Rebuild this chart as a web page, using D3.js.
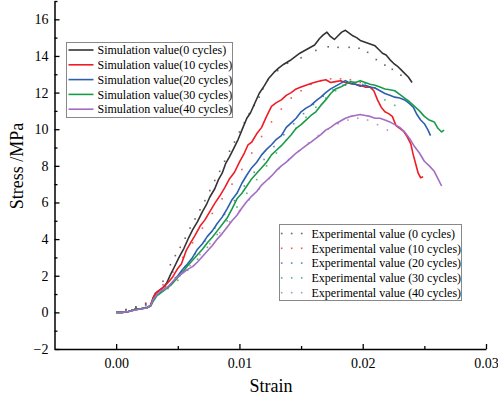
<!DOCTYPE html>
<html>
<head>
<meta charset="utf-8">
<script src="https://cdn.jsdelivr.net/npm/d3@7"></script>
<style>
  body { margin: 0; background: #fff; }
  svg { display: block; font-family: "Liberation Serif", "Times New Roman", serif; }
</style>
</head>
<body>
<svg id="chart"></svg>
<script>
// ---- data ----
const simStrain0 = [0, 0.0005, 0.001, 0.0015, 0.002, 0.0025, 0.0028, 0.003, 0.0032, 0.0035, 0.0038, 0.0041, 0.0044, 0.0047, 0.0051, 0.0055, 0.0059, 0.0062, 0.0066, 0.007, 0.0073, 0.0076, 0.008, 0.0083, 0.0086, 0.0089, 0.0092, 0.0095, 0.0099, 0.0102, 0.0106, 0.0109, 0.0113, 0.0116, 0.012, 0.0124, 0.0128, 0.0132, 0.0136, 0.0141, 0.0145, 0.0149, 0.0153, 0.0157, 0.0161, 0.0165, 0.0168, 0.0171, 0.0174, 0.0177, 0.018, 0.0183, 0.0186, 0.0189, 0.0192, 0.0195, 0.0198, 0.0202, 0.0206, 0.021, 0.0213, 0.0216, 0.0219, 0.0222, 0.0225, 0.0228, 0.0231, 0.0234, 0.0237, 0.024];
const simStress0 = [0, 0, 0.05, 0.15, 0.2, 0.25, 0.4, 0.8, 1.05, 1.2, 1.35, 1.6, 2.05, 2.45, 3.0, 3.5, 4.1, 4.5, 4.95, 5.5, 5.85, 6.3, 6.75, 7.25, 7.6, 8.15, 8.5, 8.9, 9.45, 9.95, 10.6, 10.9, 11.5, 11.95, 12.35, 12.8, 13.1, 13.35, 13.55, 13.75, 13.95, 14.15, 14.3, 14.45, 14.6, 14.95, 15.15, 15.3, 15.05, 14.9, 15.1, 15.3, 15.4, 15.25, 15.1, 15.0, 14.85, 14.75, 14.65, 14.55, 14.35, 14.15, 14.05, 13.8, 13.6, 13.45, 13.25, 13.05, 12.85, 12.55];

const simStrain10 = [0, 0.0005, 0.001, 0.0015, 0.002, 0.0025, 0.0028, 0.003, 0.0032, 0.0036, 0.0039, 0.0043, 0.0046, 0.005, 0.0053, 0.0057, 0.006, 0.0064, 0.0068, 0.0072, 0.0076, 0.008, 0.0084, 0.0088, 0.0092, 0.0096, 0.01, 0.0104, 0.0107, 0.011, 0.0114, 0.0118, 0.0122, 0.0126, 0.013, 0.0134, 0.0138, 0.0142, 0.0146, 0.015, 0.0154, 0.0158, 0.0162, 0.0166, 0.017, 0.0174, 0.0178, 0.0182, 0.0186, 0.019, 0.0194, 0.0198, 0.0202, 0.0206, 0.0209, 0.0212, 0.0215, 0.0218, 0.0221, 0.0224, 0.0227, 0.023, 0.0233, 0.0236, 0.0239, 0.0241, 0.0243, 0.0245, 0.0247, 0.0249];
const simStress10 = [0, 0, 0.05, 0.15, 0.2, 0.25, 0.4, 0.75, 1.05, 1.25, 1.4, 1.7, 1.95, 2.4, 2.65, 3.4, 3.75, 4.2, 4.7, 5.05, 5.5, 5.95, 6.35, 6.8, 7.3, 7.65, 8.2, 8.7, 9.15, 9.3, 9.75, 10.1, 10.7, 11.25, 11.45, 11.6, 11.85, 12.0, 12.2, 12.3, 12.4, 12.5, 12.58, 12.65, 12.7, 12.55, 12.6, 12.65, 12.55, 12.5, 12.45, 12.4, 12.3, 12.3, 12.1, 11.6, 11.2, 10.95, 10.85, 10.7, 10.2, 10.05, 9.9, 9.6, 9.2, 8.6, 8.1, 7.6, 7.35, 7.4];

const simStrain20 = [0, 0.0005, 0.001, 0.0015, 0.002, 0.0025, 0.0028, 0.003, 0.0033, 0.0036, 0.004, 0.0043, 0.0046, 0.005, 0.0054, 0.0058, 0.0062, 0.0066, 0.007, 0.0074, 0.0078, 0.0082, 0.0086, 0.009, 0.0094, 0.0098, 0.0102, 0.0106, 0.011, 0.0114, 0.0118, 0.0122, 0.0126, 0.013, 0.0134, 0.0138, 0.0142, 0.0146, 0.015, 0.0154, 0.0158, 0.0162, 0.0166, 0.017, 0.0174, 0.0178, 0.0182, 0.0186, 0.019, 0.0194, 0.0198, 0.0202, 0.0206, 0.021, 0.0214, 0.0218, 0.0222, 0.0226, 0.023, 0.0234, 0.0238, 0.0241, 0.0244, 0.0247, 0.025, 0.0253, 0.0255];
const simStress20 = [0, 0, 0.05, 0.15, 0.2, 0.25, 0.35, 0.65, 0.95, 1.1, 1.3, 1.45, 1.65, 2.0, 2.35, 2.65, 3.0, 3.45, 3.75, 4.15, 4.45, 4.85, 5.2, 5.65, 6.15, 6.5, 7.05, 7.5, 7.9, 8.2, 8.6, 8.9, 9.15, 9.45, 9.65, 10.1, 10.35, 10.6, 10.95, 11.15, 11.3, 11.55, 11.75, 12.0, 12.2, 12.35, 12.5, 12.65, 12.5, 12.45, 12.35, 12.4, 12.3, 12.25, 12.1, 11.95, 11.85, 11.75, 11.7, 11.6, 11.4, 11.2, 10.8, 10.5, 10.3, 9.95, 9.65];

const simStrain30 = [0, 0.0005, 0.001, 0.0015, 0.002, 0.0025, 0.0028, 0.003, 0.0033, 0.0036, 0.004, 0.0043, 0.0046, 0.005, 0.0054, 0.0058, 0.0062, 0.0066, 0.007, 0.0074, 0.0078, 0.0082, 0.0086, 0.009, 0.0094, 0.0098, 0.0102, 0.0106, 0.011, 0.0114, 0.0118, 0.0122, 0.0126, 0.013, 0.0134, 0.0138, 0.0142, 0.0146, 0.015, 0.0154, 0.0158, 0.0162, 0.0166, 0.017, 0.0174, 0.0178, 0.0182, 0.0186, 0.019, 0.0194, 0.0198, 0.0202, 0.0206, 0.021, 0.0214, 0.0218, 0.0222, 0.0226, 0.023, 0.0234, 0.0238, 0.0242, 0.0246, 0.025, 0.0254, 0.0258, 0.0261, 0.0264, 0.0266];
const simStress30 = [0, 0, 0.05, 0.15, 0.2, 0.25, 0.35, 0.6, 0.9, 1.05, 1.25, 1.4, 1.6, 1.9, 2.2, 2.55, 2.85, 3.15, 3.45, 3.8, 4.1, 4.45, 4.8, 5.15, 5.65, 6.2, 6.5, 6.9, 7.3, 7.6, 7.9, 8.2, 8.6, 8.85, 9.1, 9.4, 9.7, 10.05, 10.25, 10.5, 10.75, 10.95, 11.3, 11.6, 11.95, 12.2, 12.3, 12.45, 12.6, 12.55, 12.65, 12.55, 12.45, 12.4, 12.3, 12.2, 12.15, 12.1, 11.9, 11.7, 11.5, 11.25, 11.0, 10.7, 10.5, 10.4, 10.05, 9.85, 9.95];

const simStrain40 = [0, 0.0005, 0.001, 0.0015, 0.002, 0.0025, 0.0028, 0.003, 0.0033, 0.0036, 0.004, 0.0043, 0.0046, 0.005, 0.0054, 0.0058, 0.0062, 0.0066, 0.007, 0.0074, 0.0078, 0.0082, 0.0086, 0.009, 0.0094, 0.0098, 0.0102, 0.0106, 0.011, 0.0114, 0.0118, 0.0122, 0.0126, 0.013, 0.0134, 0.0138, 0.0142, 0.0146, 0.015, 0.0154, 0.0158, 0.0162, 0.0166, 0.017, 0.0174, 0.0178, 0.0182, 0.0186, 0.019, 0.0194, 0.0198, 0.0202, 0.0206, 0.021, 0.0214, 0.0218, 0.0222, 0.0226, 0.023, 0.0234, 0.0238, 0.0242, 0.0246, 0.025, 0.0254, 0.0258, 0.0261, 0.0264];
const simStress40 = [0, 0, 0.05, 0.12, 0.18, 0.24, 0.38, 0.7, 0.95, 1.15, 1.3, 1.45, 1.7, 1.95, 2.15, 2.35, 2.5, 2.75, 3.05, 3.35, 3.65, 4.0, 4.3, 4.65, 5.0, 5.3, 5.7, 6.05, 6.35, 6.6, 6.95, 7.2, 7.45, 7.75, 8.0, 8.2, 8.45, 8.7, 8.9, 9.1, 9.3, 9.5, 9.7, 9.95, 10.1, 10.3, 10.45, 10.6, 10.7, 10.75, 10.8, 10.75, 10.7, 10.6, 10.6, 10.5, 10.4, 10.25, 10.1, 9.85, 9.5, 9.05, 8.7, 8.25, 8.0, 7.7, 7.3, 6.9];

const expStrain0 = [0.0008, 0.0016, 0.0024, 0.0038, 0.0044, 0.0048, 0.0052, 0.0056, 0.006, 0.0064, 0.0068, 0.0072, 0.0076, 0.008, 0.0084, 0.0088, 0.0092, 0.0096, 0.01, 0.0104, 0.0108, 0.0112, 0.0116, 0.0119, 0.0123, 0.0131, 0.0139, 0.015, 0.0162, 0.0172, 0.018, 0.0189, 0.0197, 0.0204, 0.0211, 0.0218, 0.0224, 0.0231];
const expStress0 = [0.15, 0.3, 0.5, 1.7, 2.6, 3.1, 3.55, 4.05, 4.6, 5.1, 5.6, 6.1, 6.65, 7.2, 7.7, 8.25, 8.8, 9.3, 9.85, 10.35, 10.85, 11.3, 11.75, 12.2, 12.7, 13.2, 13.6, 13.9, 14.3, 14.5, 14.47, 14.47, 14.42, 14.2, 13.8, 13.5, 13.27, 12.95];

const expStrain10 = [0.0008, 0.0016, 0.0024, 0.0038, 0.0046, 0.0054, 0.0062, 0.007, 0.0078, 0.0086, 0.0094, 0.0102, 0.011, 0.0118, 0.0126, 0.0134, 0.0142, 0.015, 0.0158, 0.0166, 0.0174, 0.0182, 0.019, 0.0198, 0.0206];
const expStress10 = [0.15, 0.3, 0.45, 1.5, 2.2, 3.0, 3.8, 4.6, 5.4, 6.2, 7.0, 7.8, 8.7, 9.6, 10.4, 11.1, 11.7, 12.1, 12.45, 12.65, 12.75, 12.75, 12.7, 12.55, 12.3];

const expStrain20 = [0.0008, 0.0016, 0.0024, 0.004, 0.0048, 0.0056, 0.0064, 0.0072, 0.008, 0.0088, 0.0096, 0.0104, 0.0112, 0.012, 0.0128, 0.0136, 0.0144, 0.0152, 0.016, 0.0168, 0.0176, 0.0184, 0.0192, 0.02, 0.0208];
const expStress20 = [0.12, 0.25, 0.4, 1.4, 1.9, 2.5, 3.2, 3.9, 4.6, 5.35, 6.1, 6.9, 7.65, 8.35, 9.05, 9.7, 10.3, 10.85, 11.35, 11.8, 12.15, 12.4, 12.5, 12.45, 12.25];

const expStrain30 = [0.0008, 0.0016, 0.0024, 0.0042, 0.005, 0.0058, 0.0066, 0.0074, 0.0082, 0.009, 0.0098, 0.0106, 0.0114, 0.0122, 0.013, 0.0138, 0.0146, 0.0154, 0.0162, 0.017, 0.0178, 0.0186, 0.0194, 0.0202, 0.021, 0.0218, 0.0226];
const expStress30 = [0.12, 0.25, 0.4, 1.3, 1.75, 2.3, 2.9, 3.55, 4.25, 5.0, 5.75, 6.5, 7.25, 8.0, 8.7, 9.4, 10.05, 10.65, 11.2, 11.7, 12.1, 12.4, 12.55, 12.5, 12.25, 11.6, 11.3];

const expStrain40 = [0.0008, 0.0016, 0.0024, 0.0044, 0.0052, 0.006, 0.0068, 0.0076, 0.0084, 0.0092, 0.01, 0.0108, 0.0116, 0.0124, 0.0132, 0.014, 0.0148, 0.0156, 0.0164, 0.0172, 0.018, 0.0188, 0.0196, 0.0204, 0.0212, 0.022];
const expStress40 = [0.1, 0.2, 0.35, 1.5, 2.0, 2.55, 3.15, 3.75, 4.35, 4.95, 5.55, 6.15, 6.75, 7.3, 7.85, 8.35, 8.8, 9.25, 9.65, 10.0, 10.3, 10.5, 10.6, 10.5, 10.25, 9.95];

const simLabels = ["Simulation value(0 cycles)", "Simulation value(10 cycles)", "Simulation value(20 cycles)", "Simulation value(30 cycles)", "Simulation value(40 cycles)"];
const expLabels = ["Experimental value (0 cycles)", "Experimental value (10 cycles)", "Experimental value (20 cycles)", "Experimental value (30 cycles)", "Experimental value (40 cycles)"];
const colors = ["#333333", "#ee1c25", "#2b5fb0", "#1a9b48", "#a26dc2"];

const xMajor = [0, 0.01, 0.02, 0.03];
const xMinor = [0.005, 0.015, 0.025];
const yMajor = [-2, 0, 2, 4, 6, 8, 10, 12, 14, 16];
const yMinor = [-1, 1, 3, 5, 7, 9, 11, 13, 15, 17];

const zip = (xs, ys) => xs.map((v, i) => [v, ys[i]]);
const simSeries = [
    zip(simStrain0, simStress0), zip(simStrain10, simStress10), zip(simStrain20, simStress20),
    zip(simStrain30, simStress30), zip(simStrain40, simStress40)
];
const expSeries = [
    zip(expStrain0, expStress0), zip(expStrain10, expStress10), zip(expStrain20, expStress20),
    zip(expStrain30, expStress30), zip(expStrain40, expStress40)
];

// ---- layout ----
const W = 498, H = 397;
const svg = d3.select("#chart").attr("width", W).attr("height", H);

const x = d3.scaleLinear().domain([-0.005, 0.03]).range([54.5, 486]);
const y = d3.scaleLinear().domain([-2, 17]).range([349, 1]);

// axes (ticks inward, like Origin)
svg.append("g")
    .attr("transform", `translate(0,${y(-2)})`)
    .call(d3.axisBottom(x).tickValues(xMajor).tickFormat(d3.format(".2f"))
        .tickSizeInner(-5).tickSizeOuter(0).tickPadding(9));
svg.append("g")
    .attr("transform", `translate(0,${y(-2)})`)
    .call(d3.axisBottom(x).tickValues(xMinor).tickFormat("")
        .tickSizeInner(-3).tickSizeOuter(0))
    .select(".domain").remove();

svg.append("g")
    .attr("transform", `translate(${x(-0.005)},0)`)
    .call(d3.axisLeft(y).tickValues(yMajor).tickFormat(d3.format("d"))
        .tickSizeInner(-5).tickSizeOuter(0).tickPadding(6));
svg.append("g")
    .attr("transform", `translate(${x(-0.005)},0)`)
    .call(d3.axisLeft(y).tickValues(yMinor).tickFormat("")
        .tickSizeInner(-3).tickSizeOuter(0))
    .select(".domain").remove();

svg.selectAll(".domain").attr("stroke", "#000").attr("stroke-width", 1.5);
svg.selectAll(".tick line").attr("stroke", "#000").attr("stroke-width", 1.3);
svg.selectAll(".tick text")
    .style("font-family", "'Liberation Serif', 'Times New Roman', serif")
    .style("font-size", "14px")
    .attr("fill", "#000");

// axis titles
svg.append("text")
    .attr("x", 271).attr("y", 397)
    .attr("dy", "-0.28em")
    .attr("text-anchor", "middle")
    .style("font-size", "18px")
    .text("Strain");

svg.append("text")
    .attr("transform", "translate(23,166) rotate(-90)")
    .attr("text-anchor", "middle")
    .style("font-size", "18px")
    .text("Stress /MPa");

// experimental dots
expSeries.forEach((pts, i) => {
    svg.append("g")
        .selectAll("rect")
        .data(pts)
        .enter()
        .append("rect")
        .attr("x", d => x(d[0]) - 0.8)
        .attr("y", d => y(d[1]) - 0.8)
        .attr("width", 1.6)
        .attr("height", 1.6)
        .attr("fill", colors[i])
        .attr("opacity", 0.75);
});

// simulated curves
const line = d3.line().x(d => x(d[0])).y(d => y(d[1]));
simSeries.forEach((pts, i) => {
    svg.append("path")
        .datum(pts)
        .attr("d", line)
        .attr("fill", "none")
        .attr("stroke", colors[i])
        .attr("stroke-width", 1.6)
        .attr("stroke-linejoin", "round");
});

// legend: simulation
const leg1 = svg.append("g").attr("transform", "translate(66.5,42.5)");
leg1.append("rect")
    .attr("width", 166).attr("height", 75)
    .attr("fill", "#fff").attr("stroke", "#888").attr("stroke-width", 1);
simLabels.forEach((lab, i) => {
    const yy = 7.5 + i * 14.8;
    leg1.append("line")
        .attr("x1", 2).attr("x2", 27).attr("y1", yy).attr("y2", yy)
        .attr("stroke", colors[i]).attr("stroke-width", 1.6);
    leg1.append("text")
        .attr("x", 31).attr("y", yy).attr("dy", "0.35em")
        .style("font-size", "12px")
        .text(lab);
});

// legend: experiment
const leg2 = svg.append("g").attr("transform", "translate(279.5,224.5)");
leg2.append("rect")
    .attr("width", 182).attr("height", 76)
    .attr("fill", "#fff").attr("stroke", "#888").attr("stroke-width", 1);
expLabels.forEach((lab, i) => {
    const yy = 9 + i * 14.8;
    [2.2, 12.2, 22.2].forEach(dx => {
        leg2.append("rect")
            .attr("x", dx - 0.8).attr("y", yy - 0.8)
            .attr("width", 1.6).attr("height", 1.6)
            .attr("fill", colors[i]).attr("opacity", 0.75);
    });
    leg2.append("text")
        .attr("x", 32).attr("y", yy).attr("dy", "0.35em")
        .style("font-size", "12px")
        .text(lab);
});
</script>
</body>
</html>
